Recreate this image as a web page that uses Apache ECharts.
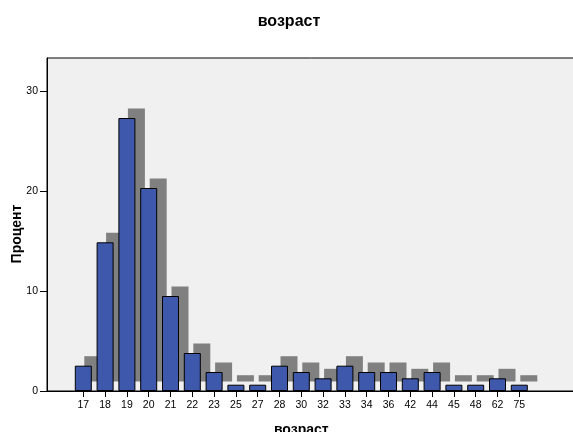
<!DOCTYPE html>
<html>
<head>
<meta charset="utf-8">
<script src="https://cdn.jsdelivr.net/npm/echarts@6/dist/echarts.min.js"></script>
<style>html,body{margin:0;padding:0;background:#fff}#c{width:573px;height:432px}</style>
</head>
<body>
<div id="c"></div>
<script>
var titleText = 'возраст';
var xTitle = 'возраст';
var yTitle = 'Процент';
var categories = ['17','18','19','20','21','22','23','25','27','28','30','32','33','34','36','42','44','45','48','62','75'];
var percents = [2.53, 14.87, 27.3, 20.3, 9.5, 3.8, 1.9, 0.63, 0.63, 2.53, 1.9, 1.27, 2.53, 1.9, 1.9, 1.27, 1.9, 0.63, 0.63, 1.27, 0.63];
var yTicks = [0, 10, 20, 30];
var yMax = 33.3;

var font = 'Arial, "Liberation Sans", sans-serif';
var plotTop = 58, plotH = 333, barLeft = 72.4, barW = 457.8, sh = 9.5;
var chart = echarts.init(document.getElementById('c'), null, {renderer: 'canvas'});
chart.setOption({
  animation: false,
  backgroundColor: '#ffffff',
  grid: [
    {left: 47, top: plotTop, width: 530, height: plotH, show: true, backgroundColor: '#f0f0f0', borderColor: '#000', borderWidth: 1, containLabel: false, outerBoundsMode: 'none'},
    {left: barLeft + sh, top: plotTop - sh, width: barW, height: plotH, containLabel: false, outerBoundsMode: 'none'},
    {left: barLeft, top: plotTop, width: barW, height: plotH, containLabel: false, outerBoundsMode: 'none'}
  ],
  xAxis: [
    {gridIndex: 0, type: 'value', min: 0, max: 1, axisLine: {show: true, lineStyle: {color: '#000', width: 1}}, axisTick: {show: false}, axisLabel: {show: false}, splitLine: {show: false}},
    {gridIndex: 1, type: 'category', data: categories, show: false},
    {gridIndex: 2, type: 'category', data: categories,
     axisLine: {show: false},
     axisTick: {show: true, alignWithLabel: true, length: 6, lineStyle: {color: '#000'}},
     axisLabel: {fontFamily: font, fontSize: 10.5, color: '#000', margin: 9},
     name: xTitle, nameLocation: 'middle', nameGap: 32,
     nameTextStyle: {fontFamily: font, fontSize: 14, fontWeight: 'bold', color: '#000'}}
  ],
  yAxis: [
    {gridIndex: 0, type: 'value', min: 0, max: yMax,
     axisLine: {show: true, lineStyle: {color: '#000'}},
     axisTick: {show: true, length: 7, lineStyle: {color: '#000'}, customValues: yTicks},
     axisLabel: {fontFamily: font, fontSize: 10.5, color: '#000', margin: 9, customValues: yTicks},
     splitLine: {show: false}},
    {gridIndex: 1, type: 'value', min: 0, max: yMax, show: false},
    {gridIndex: 2, type: 'value', min: 0, max: yMax, show: false}
  ],
  graphic: [
    {type: 'text', x: 289, y: 30, style: {text: titleText, fontFamily: font, fontSize: 16, fontWeight: 'bold', fill: '#000', textAlign: 'center', textVerticalAlign: 'bottom'}},
    {type: 'text', x: 17, y: 234, rotation: Math.PI / 2,
     style: {text: yTitle, fontFamily: font, fontSize: 14, fontWeight: 'bold', fill: '#000', textAlign: 'center', textVerticalAlign: 'middle'}}
  ],
  series: [
    {type: 'bar', xAxisIndex: 1, yAxisIndex: 1, data: percents, barWidth: 17,
     itemStyle: {color: '#808080'}, emphasis: {disabled: true}, silent: true},
    {type: 'bar', xAxisIndex: 2, yAxisIndex: 2, data: percents, barWidth: 17,
     itemStyle: {color: '#3e58ac', borderColor: '#000', borderWidth: 1},
     emphasis: {disabled: true}, silent: true}
  ]
});
</script>
</body>
</html>
